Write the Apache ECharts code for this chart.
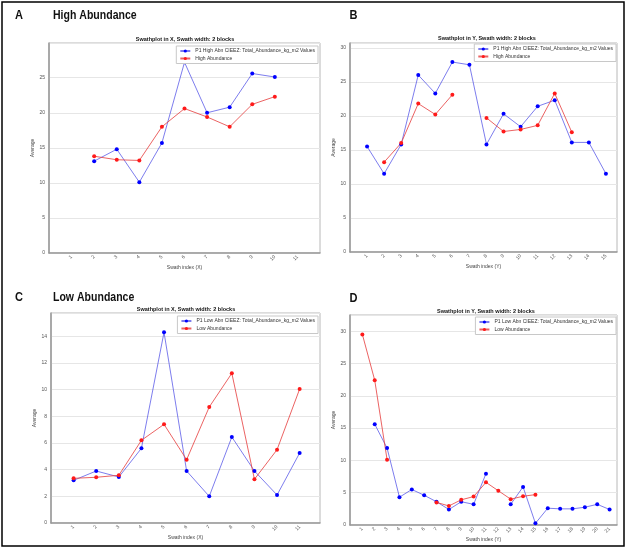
<!DOCTYPE html>
<html><head><meta charset="utf-8">
<script src="https://cdn.jsdelivr.net/npm/echarts@6/dist/echarts.min.js"></script>
<style>html,body{margin:0;padding:0;background:#fff}#c{width:628px;height:549px}</style>
</head><body><div id="c"></div>
<script>
// ---- data ----
const catsA = [1,2,3,4,5,6,7,8,9,10,11];
const aBlue = [null,13.1,14.8,10.1,15.7,27.2,20.0,20.8,25.6,25.1,null];
const aRed  = [null,13.8,13.3,13.2,18.0,20.6,19.4,18.0,21.2,22.3,null];

const catsB = [1,2,3,4,5,6,7,8,9,10,11,12,13,14,15];
const bBlue = [15.5,11.5,15.8,26.0,23.3,27.9,27.5,15.8,20.3,18.4,21.4,22.3,16.1,16.1,11.5];
const bRed  = [null,13.2,16.0,21.8,20.2,23.1,null,19.7,17.7,18.0,18.6,23.3,17.6,null,null];

const catsC = [1,2,3,4,5,6,7,8,9,10,11];
const cBlue = [3.2,3.9,3.45,5.6,14.3,3.9,2.0,6.45,3.9,2.1,5.25];
const cRed  = [3.35,3.43,3.58,6.2,7.4,4.75,8.7,11.23,3.28,5.5,10.05];

const catsD = [1,2,3,4,5,6,7,8,9,10,11,12,13,14,15,16,17,18,19,20,21];
const dBlue = [null,15.6,11.9,4.3,5.5,4.6,3.6,2.4,3.6,3.2,7.95,null,3.2,5.9,0.26,2.6,2.5,2.5,2.75,3.2,2.4];
const dRed  = [29.5,22.4,10.1,null,null,null,3.5,2.95,3.9,4.4,6.6,5.3,4.0,4.45,4.7,null,null,null,null,null,null];

const nameHighBlue = 'P1 High Abn CIEEZ: Total_Abundance_kg_m2 Values';
const nameHighRed = 'High Abundance';
const nameLowBlue = 'P1 Low Abn CIEEZ: Total_Abundance_kg_m2 Values';
const nameLowRed = 'Low Abundance';
const subTitleX = 'Swathplot in X, Swath width: 2 blocks';
const subTitleY = 'Swathplot in Y, Swath width: 2 blocks';

// ---- build ----
const F = 'Liberation Sans, Arial, sans-serif';
const pairs = (cats, vals) => cats.map((c,i) => [c, vals[i] == null ? '-' : vals[i]]);

const grids = [
  {left:49, top:43, right:308, bottom:296},
  {left:350, top:43, right:11, bottom:297},
  {left:51, top:313, right:308, bottom:26},
  {left:350, top:315, right:11, bottom:24}
].map(g => Object.assign(g, {show:true, borderColor:'#b8b8b8', borderWidth:1, backgroundColor:'#fff'}));

const xCfg = [
  {cats:catsA, max:12, name:'Swath index (X)'},
  {cats:catsB, max:15.65, name:'Swath index (Y)'},
  {cats:catsC, max:11.9, name:'Swath index (X)'},
  {cats:catsD, max:21.6, name:'Swath index (Y)'}
];
const xAxis = xCfg.map((c,i) => ({
  type:'value', gridIndex:i, min:0, max:c.max,
  name:c.name, nameLocation:'middle', nameGap:11,
  nameTextStyle:{fontSize:5, color:'#444', fontFamily:F},
  axisLine:{show:true, lineStyle:{color:'#999', width:1.5}},
  axisTick:{show:false},
  splitLine:{show:false},
  axisLabel:{customValues:c.cats, rotate:45, fontSize:5, color:'#555', fontFamily:F, margin:3}
}));

const yCfg = [
  {max:29.95, interval:5, gap:13},
  {max:30.7, interval:5, gap:12.5},
  {max:15.75, interval:2, gap:13.5},
  {max:32.5, interval:5, gap:13}
];
const yAxis = yCfg.map((c,i) => ({
  type:'value', gridIndex:i, min:0, max:c.max, interval:c.interval,
  name:'Average', nameLocation:'middle', nameGap:c.gap,
  nameTextStyle:{fontSize:5, color:'#444', fontFamily:F},
  axisLine:{show:true, lineStyle:{color:'#999', width:1.5}},
  axisTick:{show:false},
  splitLine:{show:true, lineStyle:{color:'#e6e6e6', width:1}},
  axisLabel:{fontSize:5, color:'#555', fontFamily:F, margin:4, showMaxLabel:false}
}));

function mk(name, cats, vals, idx, color, lineColor) {
  return {
    type:'line', name, xAxisIndex:idx, yAxisIndex:idx,
    data:pairs(cats, vals), connectNulls:false,
    symbol:'circle', symbolSize:4, showSymbol:true,
    lineStyle:{color:lineColor, width:1},
    itemStyle:{color},
    animation:false
  };
}
const BLUE = '#0000ff', BLUEL = 'rgba(70,70,230,0.7)';
const RED = '#ff1a1a', REDL = 'rgba(230,60,60,0.8)';
const series = [
  mk(nameHighBlue, catsA, aBlue, 0, BLUE, BLUEL),
  mk(nameHighRed, catsA, aRed, 0, RED, REDL),
  mk(nameHighBlue, catsB, bBlue, 1, BLUE, BLUEL),
  mk(nameHighRed, catsB, bRed, 1, RED, REDL),
  mk(nameLowBlue, catsC, cBlue, 2, BLUE, BLUEL),
  mk(nameLowRed, catsC, cRed, 2, RED, REDL),
  mk(nameLowBlue, catsD, dBlue, 3, BLUE, BLUEL),
  mk(nameLowRed, catsD, dRed, 3, RED, REDL)
];

const legBase = {
  orient:'vertical', backgroundColor:'#fff', borderColor:'#c8c8c8', borderWidth:1,
  padding:[2,3,2,3], itemGap:1.5, itemWidth:10, itemHeight:4, selectedMode:false,
  textStyle:{fontSize:5, color:'#333', fontFamily:F, lineHeight:6}
};
const legend = [
  Object.assign({}, legBase, {right:310, top:46, data:[nameHighBlue, nameHighRed]}),
  Object.assign({}, legBase, {right:12, top:44, data:[nameHighBlue, nameHighRed]}),
  Object.assign({}, legBase, {right:310, top:316, data:[nameLowBlue, nameLowRed]}),
  Object.assign({}, legBase, {right:12, top:317, data:[nameLowBlue, nameLowRed]})
];

function txt(text, x, y, font, align, sx) {
  return {type:'text', x, y, z:10, silent:true, scaleX:sx||1,
    style:{text, font, fill:'#111', textAlign:align||'left', textVerticalAlign:'middle', align:align||'left', verticalAlign:'middle'}};
}
const big = 'bold 13px "Liberation Sans", Arial, sans-serif';
const sub = 'bold 5.5px Liberation Sans, Arial, sans-serif';
const graphic = [
  {type:'rect', shape:{x:2, y:2, width:622, height:544}, style:{fill:'none', stroke:'#000', lineWidth:1.5}, silent:true, z:20},
  txt('A', 15, 15, big, 'left', 0.85), txt('High Abundance', 53, 15, big, 'left', 0.81),
  txt('B', 349.5, 15, big, 'left', 0.85),
  txt('C', 15, 297, big, 'left', 0.85), txt('Low Abundance', 53, 297, big, 'left', 0.81),
  txt('D', 349.5, 298, big, 'left', 0.85),
  txt(subTitleX, 185, 39, sub, 'center'),
  txt(subTitleY, 487, 38.5, sub, 'center'),
  txt(subTitleX, 186, 309, sub, 'center'),
  txt(subTitleY, 486, 311, sub, 'center')
];

const chart = echarts.init(document.getElementById('c'), null, {renderer:'canvas'});
chart.setOption({animation:false, backgroundColor:'#fff', grid:grids, xAxis, yAxis, series, legend, graphic});
</script></body></html>
